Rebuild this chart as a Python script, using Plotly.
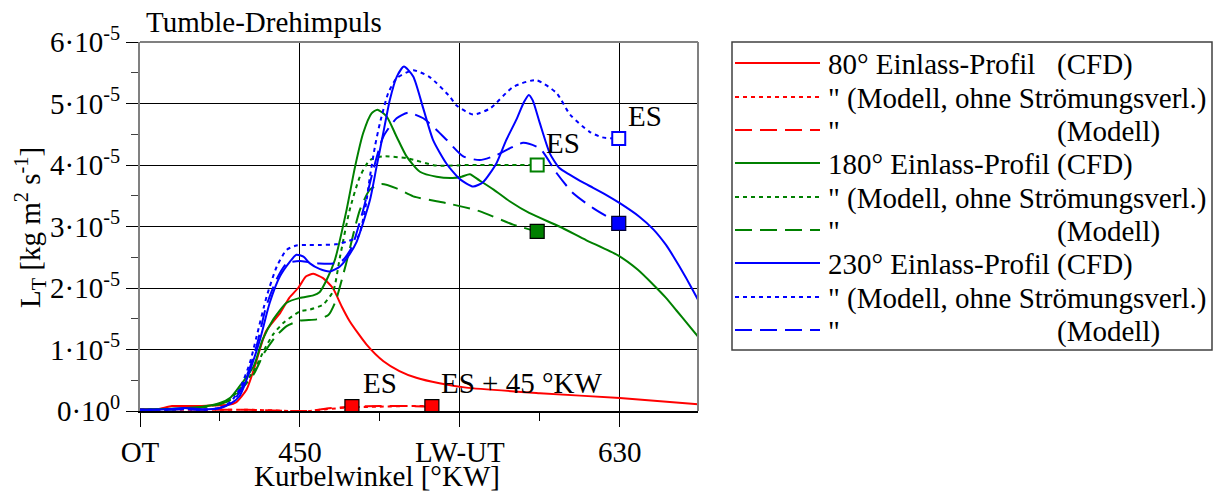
import plotly.graph_objects as go

# ---------------- data (y in units of 1e-5 kg m^2 s^-1) ----------------
SCALE = 1e-5

red_cfd_x = [360, 370, 378, 390, 400, 410, 414, 420, 424, 431, 439, 444, 449, 453.5, 457.5, 463, 468.5, 473.5, 478, 487.5, 497, 506, 515.5, 528.5, 543.5, 585, 630, 674]
red_cfd_y = [0.02, 0.03, 0.08, 0.08, 0.09, 0.10, 0.14, 0.35, 0.67, 1.30, 1.60, 1.84, 2.00, 2.19, 2.23, 2.16, 2.00, 1.70, 1.46, 1.08, 0.81, 0.65, 0.54, 0.45, 0.38, 0.29, 0.21, 0.11]

red_ohne_x = [360, 380, 400, 420, 435, 445, 455, 465, 479.25, 495, 510, 524.25]
red_ohne_y = [0.02, 0.02, 0.02, 0.02, 0.01, 0.00, 0.00, 0.03, 0.06, 0.07, 0.08, 0.08]

red_mod_x = [360, 380, 400, 420, 435, 445, 455, 465, 479.25, 495, 510, 524.25]
red_mod_y = [0.03, 0.03, 0.02, 0.02, 0.01, 0.00, 0.00, 0.04, 0.07, 0.08, 0.08, 0.07]

green_cfd_x = [360, 380, 395, 405, 411, 416, 424, 429, 435, 442.5, 450, 457.5, 461, 465, 469.7, 476.25, 481, 485.6, 490.3, 493.6, 498.75, 504.4, 510, 517.5, 526.9, 536, 541, 545.6, 551, 559, 568, 579, 596, 611, 629, 640, 649, 656, 662, 668, 674]
green_cfd_y = [0.02, 0.04, 0.07, 0.13, 0.22, 0.40, 0.73, 1.16, 1.49, 1.76, 1.84, 1.88, 1.93, 2.13, 2.46, 3.27, 3.97, 4.52, 4.84, 4.90, 4.79, 4.46, 4.14, 3.89, 3.81, 3.79, 3.81, 3.85, 3.75, 3.60, 3.41, 3.22, 3.00, 2.78, 2.53, 2.30, 2.05, 1.84, 1.63, 1.42, 1.21]

green_ohne_x = [360, 380, 395, 405, 411, 416, 424, 430, 435, 440.6, 450, 455.6, 463, 468.75, 472.5, 478, 483.75, 489.4, 496.9, 510, 526.9, 545, 565, 583.5]
green_ohne_y = [0.02, 0.03, 0.06, 0.12, 0.20, 0.35, 0.65, 1.00, 1.25, 1.43, 1.62, 1.65, 1.73, 1.95, 2.50, 3.27, 3.81, 4.08, 4.14, 4.11, 3.99, 4.00, 4.00, 4.00]

green_mod_x = [360, 380, 395, 405, 411, 416, 424, 430, 436, 442.5, 450, 459.4, 466, 470, 476, 483.75, 489.4, 495.9, 504.4, 513.75, 526.9, 532.5, 551, 570, 583.5]
green_mod_y = [0.02, 0.03, 0.06, 0.11, 0.18, 0.32, 0.60, 0.95, 1.20, 1.38, 1.47, 1.49, 1.56, 1.78, 2.40, 3.27, 3.60, 3.69, 3.62, 3.49, 3.41, 3.38, 3.25, 3.03, 2.92]

blue_cfd_x = [360, 375, 385, 395, 405, 411, 416, 422, 427.5, 433, 438.75, 444.4, 448, 452, 455.6, 461, 467, 472.5, 478, 481.9, 489.4, 493.1, 496.9, 500.6, 504.4, 508.5, 513.75, 519.4, 525, 532.5, 540, 547.5, 553, 560.6, 566, 572, 576, 578.8, 581, 585, 590.6, 596, 602, 609, 615, 622, 630, 641, 649, 656, 660, 667, 674]
blue_cfd_y = [0.02, 0.03, 0.05, 0.03, 0.05, 0.12, 0.24, 0.67, 1.16, 1.76, 2.19, 2.43, 2.54, 2.51, 2.40, 2.31, 2.27, 2.35, 2.55, 2.75, 3.43, 3.97, 4.52, 5.06, 5.43, 5.60, 5.44, 4.92, 4.40, 4.02, 3.77, 3.65, 3.72, 4.03, 4.40, 4.75, 5.02, 5.14, 5.05, 4.68, 4.19, 3.95, 3.84, 3.72, 3.63, 3.52, 3.38, 3.16, 2.95, 2.70, 2.52, 2.18, 1.81]

blue_ohne_x = [360, 375, 385, 395, 405, 411, 416, 421.9, 425.6, 431.25, 437, 442.5, 448, 455, 462, 470, 477, 482.8, 486.6, 489.4, 492.2, 495, 499.7, 504.4, 513.75, 523, 534.4, 538, 547.5, 557, 570, 583, 594.4, 602, 613, 620, 629.4]
blue_ohne_y = [0.02, 0.02, 0.03, 0.02, 0.05, 0.15, 0.35, 0.79, 1.21, 1.86, 2.35, 2.62, 2.69, 2.70, 2.70, 2.71, 2.76, 2.84, 3.27, 3.81, 4.30, 4.68, 5.17, 5.41, 5.54, 5.43, 5.11, 4.97, 4.82, 4.92, 5.27, 5.38, 5.17, 4.82, 4.54, 4.45, 4.43]

blue_mod_x = [360, 375, 385, 395, 405, 411, 416, 422, 426, 431, 437, 442.5, 450, 455, 461, 468.75, 474, 479, 485.6, 491.25, 496.9, 504.4, 510.9, 519.4, 526.9, 532.5, 541.9, 551.25, 560.6, 568, 575.6, 585, 594.4, 603.75, 615, 629.4]
blue_mod_y = [0.02, 0.02, 0.03, 0.02, 0.05, 0.13, 0.30, 0.72, 1.10, 1.70, 2.15, 2.40, 2.44, 2.42, 2.40, 2.40, 2.45, 2.65, 3.27, 3.92, 4.46, 4.76, 4.85, 4.76, 4.57, 4.41, 4.14, 4.08, 4.16, 4.27, 4.36, 4.27, 3.87, 3.54, 3.30, 3.05]

# ES markers (Einlass schliesst)
es_red_x = [479.25, 524.25]
es_red_y = [0.07, 0.07]
es_green_open = (583.5, 4.00)
es_green_fill = (583.5, 2.92)
es_blue_open = (629.4, 4.43)
es_blue_fill = (629.4, 3.05)

x_tick_vals = [360, 450, 540, 630]
x_tick_text = ["OT", "450", "LW-UT", "630"]
x_minor_vals = [405, 495, 585, 675]
y_tick_vals = [0, 1, 2, 3, 4, 5, 6]
y_tick_text = ["0·10<sup>0</sup>", "1·10<sup>-5</sup>", "2·10<sup>-5</sup>", "3·10<sup>-5</sup>",
               "4·10<sup>-5</sup>", "5·10<sup>-5</sup>", "6·10<sup>-5</sup>"]

legend_labels = [
    ("80° Einlass-Profil", "(CFD)"),
    ("\" (Modell, ohne Strömungsverl.)", None),
    ("\"", "(Modell)"),
    ("180° Einlass-Profil", "(CFD)"),
    ("\" (Modell, ohne Strömungsverl.)", None),
    ("\"", "(Modell)"),
    ("230° Einlass-Profil", "(CFD)"),
    ("\" (Modell, ohne Strömungsverl.)", None),
    ("\"", "(Modell)"),
]

# ---------------- styling ----------------
FONT = "Liberation Serif"
FS = 29
RED, GREEN, BLUE = "#ff0000", "#008000", "#0000ff"
DOT = "4px,4px"
DASH = "17px,8px"
W, H = 1213, 493
ML, MR, MT, MB = 140, 515, 42, 82
PW, PH = W - ML - MR, H - MT - MB


def px(xp):
    return (xp - ML) / PW


def py(yp):
    return (H - MB - yp) / PH


fig = go.Figure()

series = [
    (red_cfd_x, red_cfd_y, RED, "solid"),
    (red_ohne_x, red_ohne_y, RED, DOT),
    (red_mod_x, red_mod_y, RED, DASH),
    (green_cfd_x, green_cfd_y, GREEN, "solid"),
    (green_ohne_x, green_ohne_y, GREEN, DOT),
    (green_mod_x, green_mod_y, GREEN, DASH),
    (blue_cfd_x, blue_cfd_y, BLUE, "solid"),
    (blue_ohne_x, blue_ohne_y, BLUE, DOT),
    (blue_mod_x, blue_mod_y, BLUE, DASH),
]
for xs, ys, c, d in series:
    fig.add_trace(go.Scatter(
        x=xs, y=[v * SCALE for v in ys], mode="lines",
        line=dict(color=c, width=2, dash=d, shape="spline", smoothing=0.6),
        showlegend=False, hoverinfo="skip"))


def marker(xs, ys, fill, edge, ew=1.2, size=14):
    fig.add_trace(go.Scatter(
        x=xs, y=[v * SCALE for v in ys], mode="markers",
        marker=dict(symbol="square", size=size, color=fill, line=dict(color=edge, width=ew)),
        showlegend=False, hoverinfo="skip"))


marker(es_red_x, es_red_y, RED, "#000000")
marker([es_green_fill[0]], [es_green_fill[1]], GREEN, "#000000")
marker([es_green_open[0]], [es_green_open[1]], "#ffffff", GREEN, ew=2, size=13)
marker([es_blue_fill[0]], [es_blue_fill[1]], BLUE, "#000033")
marker([es_blue_open[0]], [es_blue_open[1]], "#ffffff", BLUE, ew=2, size=13)

annotations = []
tf = dict(family=FONT, size=FS, color="black")
annotations += [
    dict(x=495, y=0.45 * SCALE, text="ES", showarrow=False, font=tf, xanchor="center", yanchor="middle"),
    dict(x=574.5, y=0.45 * SCALE, text="ES + 45 °KW", showarrow=False, font=tf, xanchor="center", yanchor="middle"),
    dict(x=598, y=4.36 * SCALE, text="ES", showarrow=False, font=tf, xanchor="center", yanchor="middle"),
    dict(x=644, y=4.80 * SCALE, text="ES", showarrow=False, font=tf, xanchor="center", yanchor="middle"),
]
annotations += [
    dict(xref="paper", yref="paper", x=px(144), y=py(22), text="Tumble-Drehimpuls", showarrow=False,
         font=tf, xanchor="left", yanchor="middle"),
    dict(xref="paper", yref="paper", x=px(377), y=py(476), text="Kurbelwinkel [°KW]", showarrow=False,
         font=tf, xanchor="center", yanchor="middle"),
    dict(xref="paper", yref="paper", x=px(30), y=py(228),
         text="L<sub>T</sub> [kg m<sup>2</sup> s<sup>-1</sup>]", showarrow=False,
         font=tf, textangle=-90, xanchor="center", yanchor="middle"),
]

shapes = []
shapes.append(dict(type="line", xref="paper", yref="paper", x0=0, x1=1, y0=1, y1=1,
                   line=dict(color="#808080", width=2), layer="above"))
shapes.append(dict(type="line", xref="paper", yref="paper", x0=1, x1=1, y0=0, y1=1,
                   line=dict(color="#808080", width=2), layer="above"))

# manual legend
shapes.append(dict(type="rect", xref="paper", yref="paper", x0=px(732), x1=px(1212), y0=py(42), y1=py(350),
                   line=dict(color="#404040", width=1.5), fillcolor="rgba(0,0,0,0)"))
leg_rows = [63, 97, 130, 163, 197, 230, 263, 297, 330]
for (xs, ys, c, d), row, (lab, tail) in zip(series, leg_rows, legend_labels):
    shapes.append(dict(type="line", xref="paper", yref="paper", x0=px(735), x1=px(820), y0=py(row), y1=py(row),
                       line=dict(color=c, width=2, dash=d)))
    annotations.append(dict(xref="paper", yref="paper", x=px(826), y=py(row + 1), text=lab, showarrow=False,
                            font=tf, xanchor="left", yanchor="middle"))
    if tail:
        annotations.append(dict(xref="paper", yref="paper", x=px(1055), y=py(row + 1), text=tail, showarrow=False,
                                font=tf, xanchor="left", yanchor="middle"))

fig.update_layout(
    width=W, height=H,
    margin=dict(l=ML, r=MR, t=MT, b=MB, pad=0),
    paper_bgcolor="white", plot_bgcolor="white",
    font=dict(family=FONT, size=FS, color="black"),
    showlegend=False,
    annotations=annotations, shapes=shapes,
    xaxis=dict(
        range=[360, 674], tickmode="array", tickvals=x_tick_vals, ticktext=x_tick_text,
        ticks="outside", ticklen=14, tickwidth=1, tickcolor="black",
        showgrid=True, gridcolor="black", gridwidth=1,
        showline=True, linecolor="black", linewidth=1.5, mirror=False, zeroline=False,
        tickfont=dict(family=FONT, size=FS, color="black"),
        minor=dict(tickmode="array", tickvals=x_minor_vals, ticks="outside", ticklen=8,
                   tickcolor="black", showgrid=False),
    ),
    yaxis=dict(
        range=[0, 6 * SCALE], tickmode="array", tickvals=[v * SCALE for v in y_tick_vals], ticktext=y_tick_text,
        ticks="outside", ticklen=12, tickwidth=1, tickcolor="black",
        showgrid=True, gridcolor="black", gridwidth=1,
        showline=True, linecolor="#808080", linewidth=2, mirror=False, zeroline=False,
        tickfont=dict(family=FONT, size=FS, color="black"),
        minor=dict(dtick=0.5 * SCALE, tick0=0, ticks="outside", ticklen=7, tickcolor="#404040", showgrid=False),
    ),
)

fig.write_html("out.html")
